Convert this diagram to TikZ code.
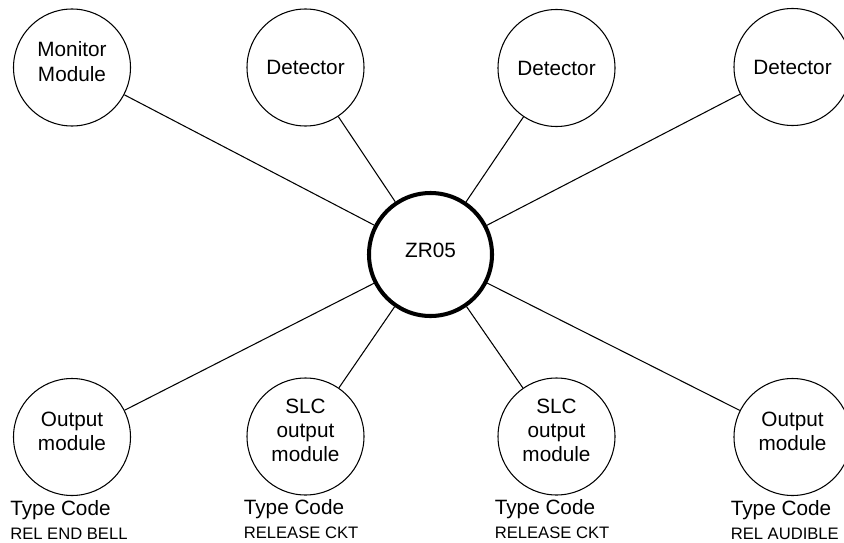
\documentclass[tikz,border=0pt]{standalone}
\usepackage{fontspec}
\setmainfont{Liberation Sans}
\usetikzlibrary{positioning}

\begin{document}
\begin{tikzpicture}[
      every node/.style={font=\fontsize{11.8}{13.7}\selectfont, inner sep=0pt},
      devbox/.style={draw, circle, line width=0.6pt, minimum size=2.34cm, align=center},
      liftbox/.style={devbox, execute at end node={\rule[-0.24cm]{0pt}{0pt}}},
      zonebox/.style={draw, circle, line width=2.3pt, minimum size=2.46cm, text depth=0.16cm},
      link/.style={line width=0.6pt},
      typelbl/.style={anchor=north west, align=left, xshift=-0.06cm, yshift=-0.08cm},
    ]
      \useasboundingbox (0, 0) rectangle (16.88, 10.84);
      % Centre: the zone
      \node[zonebox] (zr) at (8.61, 5.75) {ZR05};
      % Top row: monitor module and detectors
      \node[liftbox] (mon) at (1.44, 9.49) {Monitor\\Module};
      \node[devbox] (det1) at (6.11, 9.49) {Detector};
      \node[devbox] (det2) at (11.13, 9.48) {Detector};
      \node[devbox] (det3) at (15.85, 9.5) {Detector};
      % Bottom row: output modules
      \node[liftbox] (out1) at (1.44, 2.1) {Output\\module};
      \node[liftbox] (slc1) at (6.11, 2.11) {SLC\\output\\module};
      \node[liftbox] (slc2) at (11.13, 2.11) {SLC\\output\\module};
      \node[liftbox] (out2) at (15.85, 2.1) {Output\\module};
      % Links into the zone
      \draw[link] (mon) -- (zr);
      \draw[link] (det1) -- (zr);
      \draw[link] (det2) -- (zr);
      \draw[link] (det3) -- (zr);
      \draw[link] (out1) -- (zr);
      \draw[link] (slc1) -- (zr);
      \draw[link] (slc2) -- (zr);
      \draw[link] (out2) -- (zr);
      % Type codes under the bottom row
      \node[typelbl] (tc1) at (out1.west |- out1.south) {Type Code\\
        {\fontsize{9.45}{13.7}\selectfont REL END BELL}};
      \node[typelbl] (tc2) at (slc1.west |- slc1.south) {Type Code\\
        {\fontsize{9.45}{13.7}\selectfont RELEASE CKT}};
      \node[typelbl] (tc3) at (slc2.west |- slc2.south) {Type Code\\
        {\fontsize{9.45}{13.7}\selectfont RELEASE CKT}};
      \node[typelbl] (tc4) at (out2.west |- out2.south) {Type Code\\
        {\fontsize{9.45}{13.7}\selectfont REL AUDIBLE}};
    \end{tikzpicture}
\end{document}
